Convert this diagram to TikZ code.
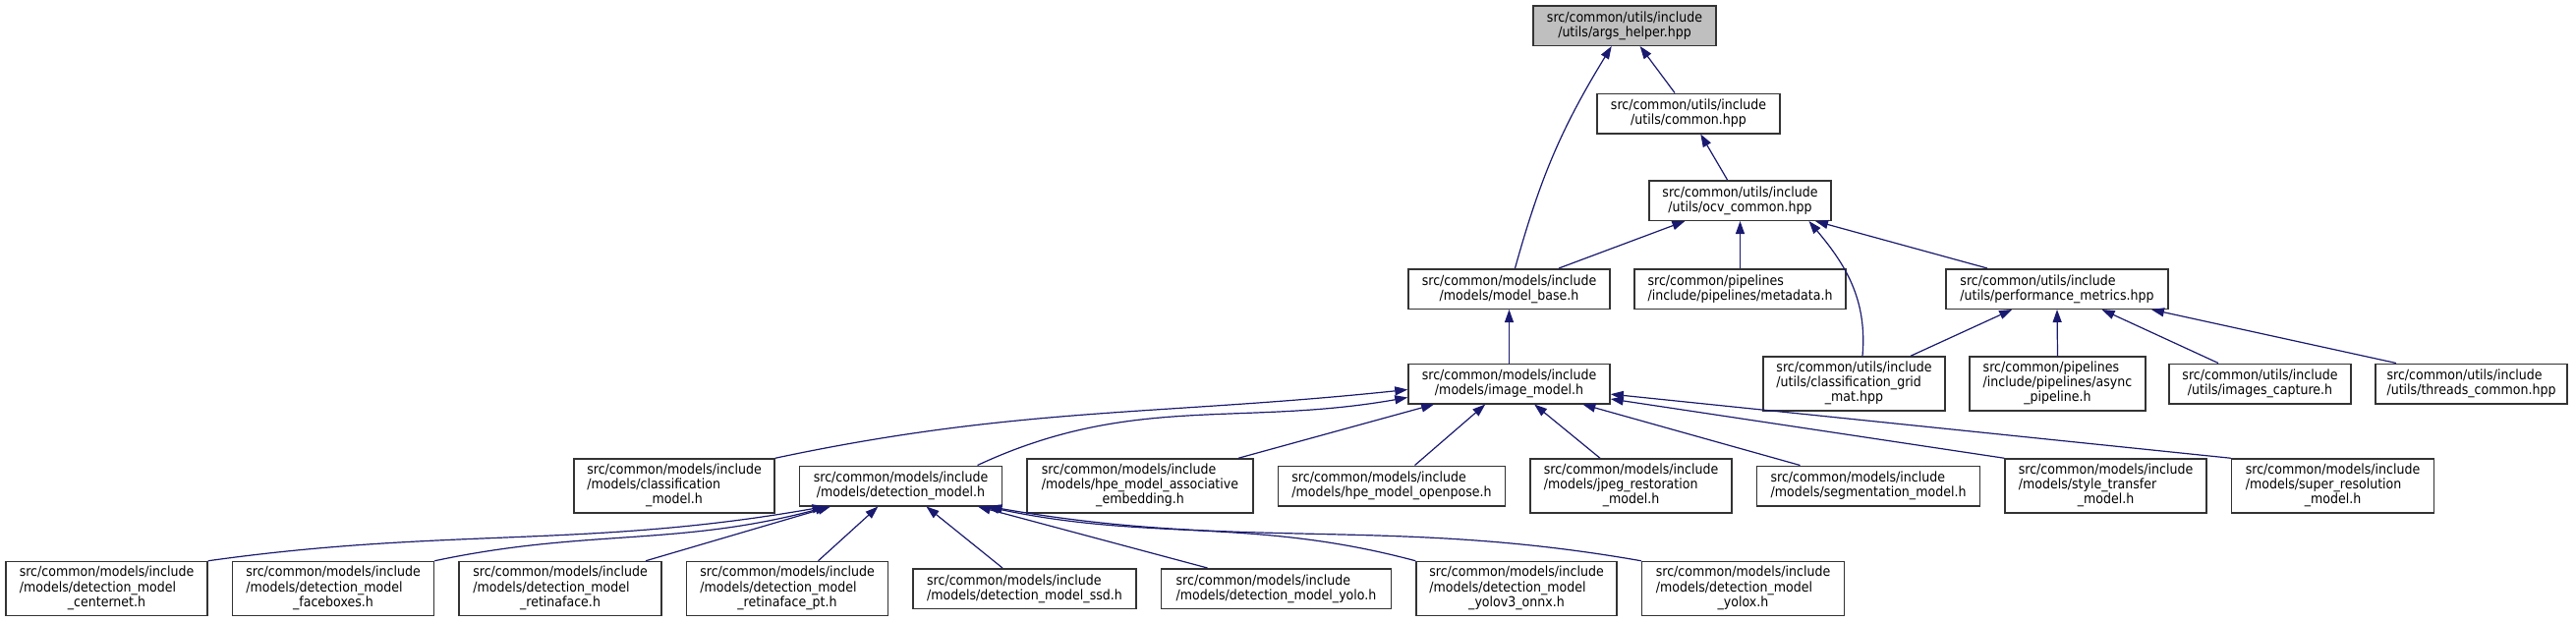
\documentclass[tikz,border=0pt]{standalone}
\usepackage{fontspec}
\setmainfont{DejaVu Sans}[FakeStretch=0.9]
\usetikzlibrary{arrows.meta, positioning}
\definecolor{edgeblue}{HTML}{191970}
\definecolor{boxgrey}{HTML}{BFBFBF}
% two left lines, last line centred
\newcommand{\threel}[3]{\begin{tabular}{@{}l@{}}#1\\#2\\\multicolumn{1}{@{}c@{}}{#3}\end{tabular}}

\begin{document}
\begin{tikzpicture}[
  x=1pt, y=1pt,
  node distance=24pt,
  box/.style={rectangle, draw=black!80, line width=1.5pt, minimum height=40.5pt, inner sep=2pt, align=center, font=\fontsize{14}{15}\selectfont},
  tall/.style={box, minimum height=55pt},
  incl/.style={draw=edgeblue, line width=1.2pt, {Triangle[length=13pt, width=9pt]}-}
]
\useasboundingbox (0,0) rectangle (2621,-632);
% upper part
\node[box, fill=boxgrey, minimum width=186pt] (args) at (1653,-26) {src/common/utils/include\\/utils/args\_helper.hpp};
\node[box, minimum width=186pt] (common) at (1718,-115.5) {src/common/utils/include\\/utils/common.hpp};
\node[box, minimum width=185pt] (ocv) at (1770.5,-204) {src/common/utils/include\\/utils/ocv\_common.hpp};
\node[box, minimum width=205pt] (base) at (1535.5,-294) {src/common/models/include\\/models/model\_base.h};
\node[box, align=left, minimum width=215pt] (meta) at (1770.5,-294) {src/common/pipelines\\/include/pipelines/metadata.h};
\node[box, align=left, minimum width=226pt] (perf) at (2093,-294) {src/common/utils/include\\/utils/performance\_metrics.hpp};
\node[box, minimum width=205pt] (img) at (1535.5,-390.5) {src/common/models/include\\/models/image\_model.h};
\node[tall, minimum width=185pt] (grid) at (1886.5,-390.5) {\threel{src/common/utils/include}{/utils/classification\_grid}{\_mat.hpp}};
\node[tall, minimum width=179pt] (async) at (2093.5,-390.5) {\threel{src/common/pipelines}{/include/pipelines/async}{\_pipeline.h}};
\node[box, minimum width=185pt] (capt) at (2299.5,-390.5) {src/common/utils/include\\/utils/images\_capture.h};
\node[box, align=left, minimum width=195pt] (thr) at (2514.5,-390.5) {src/common/utils/include\\/utils/threads\_common.hpp};
% models row
\node[tall, minimum width=204pt] (cls) at (686,-494.5) {\threel{src/common/models/include}{/models/classification}{\_model.h}};
\node[box, minimum width=206pt, right=of cls] (det) {src/common/models/include\\/models/detection\_model.h};
\node[tall, minimum width=230pt, right=of det] (hpe) {\threel{src/common/models/include}{/models/hpe\_model\_associative}{\_embedding.h}};
\node[box, align=left, minimum width=231pt, right=of hpe] (opose) {src/common/models/include\\/models/hpe\_model\_openpose.h};
\node[tall, minimum width=205pt, right=of opose] (jpeg) {\threel{src/common/models/include}{/models/jpeg\_restoration}{\_model.h}};
\node[box, align=left, minimum width=227pt, right=of jpeg] (seg) {src/common/models/include\\/models/segmentation\_model.h};
\node[tall, minimum width=205pt, right=of seg] (style) {\threel{src/common/models/include}{/models/style\_transfer}{\_model.h}};
\node[tall, minimum width=206pt, right=of style] (sres) {\threel{src/common/models/include}{/models/super\_resolution}{\_model.h}};
% detection row
\node[tall, minimum width=205pt] (cen) at (108.5,-599) {\threel{src/common/models/include}{/models/detection\_model}{\_centernet.h}};
\node[tall, minimum width=205pt, right=of cen] (fbox) {\threel{src/common/models/include}{/models/detection\_model}{\_faceboxes.h}};
\node[tall, minimum width=206pt, right=of fbox] (rface) {\threel{src/common/models/include}{/models/detection\_model}{\_retinaface.h}};
\node[tall, minimum width=205pt, right=of rface] (rfpt) {\threel{src/common/models/include}{/models/detection\_model}{\_retinaface\_pt.h}};
\node[box, align=left, minimum width=227pt, right=of rfpt] (ssd) {src/common/models/include\\/models/detection\_model\_ssd.h};
\node[box, align=left, minimum width=234pt, right=of ssd] (yolo) {src/common/models/include\\/models/detection\_model\_yolo.h};
\node[tall, minimum width=204pt, right=of yolo] (yv3) {\threel{src/common/models/include}{/models/detection\_model}{\_yolov3\_onnx.h}};
\node[tall, minimum width=206pt, right=of yv3] (yolox) {\threel{src/common/models/include}{/models/detection\_model}{\_yolox.h}};
% includes
\draw[incl] (args) -- ([xshift=-14pt]common.north);
\draw[incl] (args) to[bend right=8] ([xshift=6pt]base.north);
\draw[incl] (common) -- ([xshift=-13pt]ocv.north);
\draw[incl] (ocv) -- ([xshift=50.5pt]base.north);
\draw[incl] (ocv) -- (meta);
\draw[incl] ([xshift=70pt]ocv.south) to[out=-50, in=85] ([xshift=8.5pt]grid.north);
\draw[incl] (ocv) -- ([xshift=-71pt]perf.north);
\draw[incl] (base) -- (img);
\draw[incl] (perf) -- ([xshift=57.5pt]grid.north);
\draw[incl] (perf.south) -- (async.north);
\draw[incl] (perf) -- ([xshift=-42.5pt]capt.north);
\draw[incl] (perf) -- ([xshift=-76.5pt]thr.north);
\draw[incl] ([yshift=-6pt]img.west) to[out=186, in=12] (cls.north east);
\draw[incl] ([yshift=-14pt]img.west) to[out=190, in=25] ([xshift=78pt]det.north);
\draw[incl] (img) -- ([xshift=100pt]hpe.north);
\draw[incl] (img) -- ([xshift=23.5pt]opose.north);
\draw[incl] (img) -- ([xshift=-31.5pt]jpeg.north);
\draw[incl] (img) -- ([xshift=-69.5pt]seg.north);
\draw[incl] (img) -- (style.north west);
\draw[incl] (img) -- (sres.north west);
\draw[incl] ([xshift=-77pt]det.south) to[out=190, in=8] (cen.north east);
\draw[incl] ([xshift=-74pt]det.south) to[out=195, in=12] (fbox.north east);
\draw[incl] (det) -- ([xshift=87pt]rface.north);
\draw[incl] (det) -- ([xshift=31.5pt]rfpt.north);
\draw[incl] (det) -- ([xshift=-22.5pt]ssd.north);
\draw[incl] (det) -- ([xshift=-70pt]yolo.north);
\draw[incl] ([xshift=87pt]det.south) to[out=-12, in=165] (yv3.north west);
\draw[incl] ([xshift=90pt]det.south) to[out=-10, in=170] (yolox.north west);
\end{tikzpicture}
\end{document}
